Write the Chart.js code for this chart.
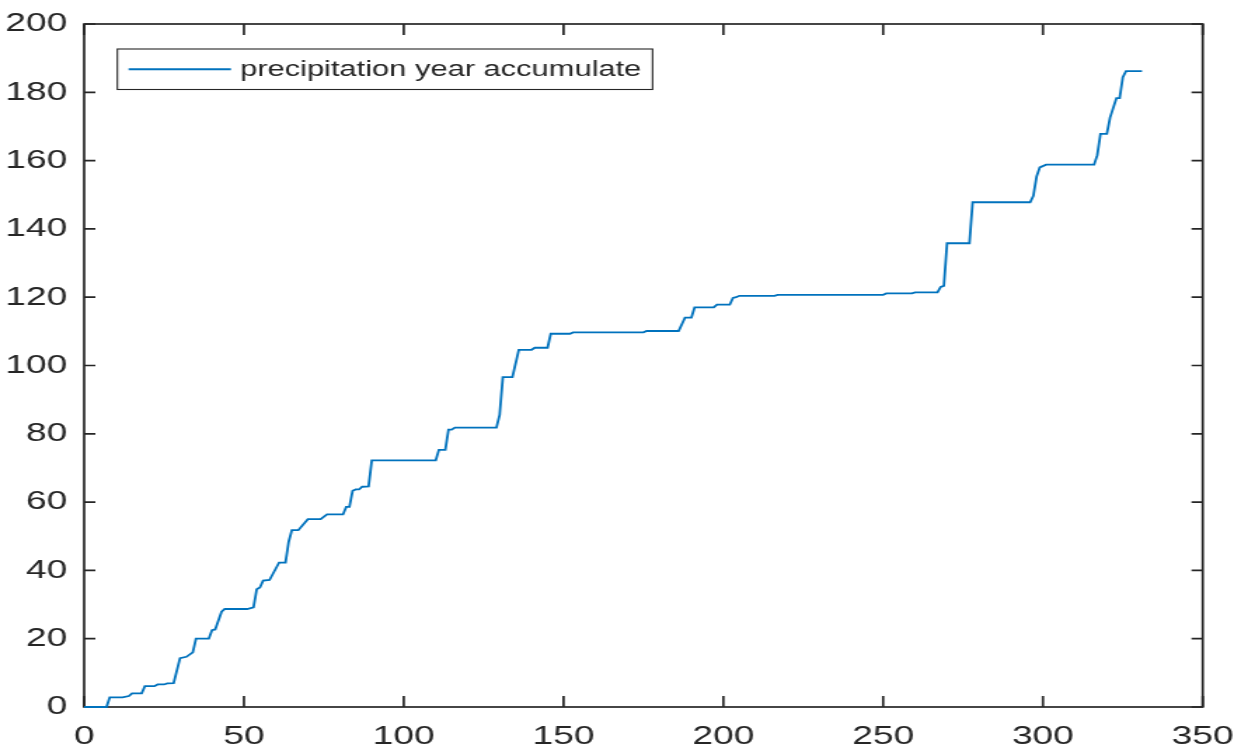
<!DOCTYPE html>
<html>
<head>
<meta charset="utf-8">
<script src="https://cdn.jsdelivr.net/npm/chart.js@4"></script>
<style>
  html, body { margin: 0; padding: 0; background: #ffffff; overflow: hidden; }
</style>
</head>
<body>
<canvas id="c" width="880" height="749" style="display:block;width:1234px;height:749px;"></canvas>
<script>
// ---- data ----
const seriesName = 'precipitation year accumulate';
const days = [0, 7, 8, 12, 14, 15, 18, 19, 22, 23, 25, 26, 28, 30, 32, 34, 35, 39, 40, 41,
  43, 44, 51, 53, 54, 55, 56, 58, 61, 63, 64, 65, 67, 70, 74, 76, 81, 82, 83, 84,
  85, 86, 87, 89, 90, 110, 111, 113, 114, 115, 116, 129, 130, 131, 134, 136, 140, 141, 145, 146,
  152, 153, 175, 176, 186, 188, 190, 191, 197, 198, 202, 203, 204, 205, 216, 217, 250, 251, 259, 260,
  267, 268, 269, 270, 277, 278, 296, 297, 298, 299, 301, 316, 317, 318, 320, 321, 323, 324, 325, 326, 331];
const precip = [0, 0, 2.8, 2.8, 3.2, 4.0, 4.0, 6.1, 6.1, 6.6, 6.6, 6.9, 7.0, 14.3, 14.7, 16.0, 20.0, 20.0, 22.5, 22.7,
  27.9, 28.7, 28.7, 29.2, 34.5, 35.0, 37.0, 37.2, 42.3, 42.3, 48.4, 51.8, 51.8, 55.0, 55.0, 56.4, 56.4, 58.6, 58.6, 63.3,
  63.7, 63.7, 64.5, 64.6, 72.2, 72.2, 75.3, 75.3, 81.2, 81.2, 81.8, 81.8, 85.5, 96.6, 96.6, 104.6, 104.6, 105.2, 105.2, 109.3,
  109.3, 109.7, 109.7, 110.1, 110.1, 114.0, 114.0, 117.0, 117.0, 117.8, 117.8, 119.8, 120.0, 120.4, 120.4, 120.7, 120.7, 121.1, 121.1, 121.4,
  121.4, 123.0, 123.3, 135.8, 135.8, 147.8, 147.8, 149.7, 155.3, 158.0, 158.8, 158.8, 161.6, 167.8, 167.8, 172.6, 178.3, 178.3, 184.4, 186.2, 186.2];
const xTickLabels = [0, 50, 100, 150, 200, 250, 300, 350];
const yTickLabels = [0, 20, 40, 60, 80, 100, 120, 140, 160, 180, 200];

// ---- styles ----
const LINE_COLOR = '#0072BD';
const AXIS_COLOR = '#262626';
const FONT_FAMILY = '"Liberation Sans", Arial, Helvetica, sans-serif';
const TICK_FONT_SIZE = 26.5;
const LEGEND_FONT_SIZE = 22;
const TICK_LEN_X = 11;   // vertical tick marks on horizontal axes
const TICK_LEN_Y = 8;    // horizontal tick marks on vertical axes

const matlabAxes = {
  id: 'matlabAxes',
  beforeDatasetsDraw(chart) {
    const { ctx, chartArea } = chart;
    const { left, right, top, bottom } = chartArea;
    const xs = chart.scales.x, ys = chart.scales.y;
    ctx.save();
    ctx.strokeStyle = AXIS_COLOR;
    ctx.lineWidth = 1.7;
    ctx.beginPath();
    xs.ticks.forEach(t => {
      const px = xs.getPixelForValue(t.value);
      ctx.moveTo(px, bottom); ctx.lineTo(px, bottom - TICK_LEN_X);
      ctx.moveTo(px, top); ctx.lineTo(px, top + TICK_LEN_X);
    });
    ys.ticks.forEach(t => {
      const py = ys.getPixelForValue(t.value);
      ctx.moveTo(left, py); ctx.lineTo(left + TICK_LEN_Y, py);
      ctx.moveTo(right, py); ctx.lineTo(right - TICK_LEN_Y, py);
    });
    ctx.stroke();
    ctx.strokeRect(left, top, right - left, bottom - top);
    ctx.restore();
  },
  afterDatasetsDraw(chart) {
    const { ctx, chartArea } = chart;
    const { left, top } = chartArea;
    // legend box inside the axes (top-left)
    const ds = chart.data.datasets[0];
    const boxL = left + 23.7, boxT = top + 25, boxH = 40.5;
    const lineX0 = boxL + 8, lineX1 = boxL + 81, textX = boxL + 87.5;
    ctx.save();
    ctx.font = LEGEND_FONT_SIZE + 'px ' + FONT_FAMILY;
    const tw = ctx.measureText(ds.label).width;
    const boxW = textX - boxL + tw + 8;
    ctx.fillStyle = '#ffffff';
    ctx.fillRect(boxL, boxT, boxW, boxH);
    ctx.strokeStyle = AXIS_COLOR;
    ctx.lineWidth = 1.1;
    ctx.strokeRect(boxL, boxT, boxW, boxH);
    ctx.strokeStyle = ds.borderColor;
    ctx.lineWidth = ds.borderWidth;
    ctx.beginPath();
    ctx.moveTo(lineX0, boxT + boxH / 2);
    ctx.lineTo(lineX1, boxT + boxH / 2);
    ctx.stroke();
    ctx.fillStyle = AXIS_COLOR;
    ctx.textBaseline = 'middle';
    ctx.textAlign = 'left';
    ctx.fillText(ds.label, textX, boxT + boxH / 2 + 1);
    ctx.restore();
  }
};

new Chart(document.getElementById('c'), {
  type: 'line',
  data: {
    datasets: [{
      label: seriesName,
      data: days.map((d, i) => ({ x: d, y: precip[i] })),
      borderColor: LINE_COLOR,
      backgroundColor: LINE_COLOR,
      borderWidth: 1.8,
      pointRadius: 0,
      tension: 0,
      fill: false,
      clip: 4
    }]
  },
  options: {
    responsive: false,
    devicePixelRatio: 1,
    animation: false,
    layout: { padding: { left: 0, right: 22.3, top: 24, bottom: 0 } },
    plugins: { legend: { display: false }, tooltip: { enabled: false } },
    scales: {
      x: {
        type: 'linear',
        min: 0, max: 350,
        afterBuildTicks: s => { s.ticks = xTickLabels.map(v => ({ value: v })); },
        afterFit: s => { s.height = 42; s.paddingLeft = 0; s.paddingRight = 0; },
        grid: { display: false, drawTicks: false },
        border: { display: false },
        ticks: {
          color: AXIS_COLOR,
          padding: 14,
          maxRotation: 0,
          font: { family: FONT_FAMILY, size: TICK_FONT_SIZE }
        }
      },
      y: {
        type: 'linear',
        min: 0, max: 200,
        afterBuildTicks: s => { s.ticks = yTickLabels.map(v => ({ value: v })); },
        afterFit: s => { s.width = 60; s.paddingTop = 0; s.paddingBottom = 0; },
        grid: { display: false, drawTicks: false },
        border: { display: false },
        ticks: {
          color: AXIS_COLOR,
          padding: 12,
          font: { family: FONT_FAMILY, size: TICK_FONT_SIZE }
        }
      }
    }
  },
  plugins: [matlabAxes]
});
</script>
</body>
</html>
